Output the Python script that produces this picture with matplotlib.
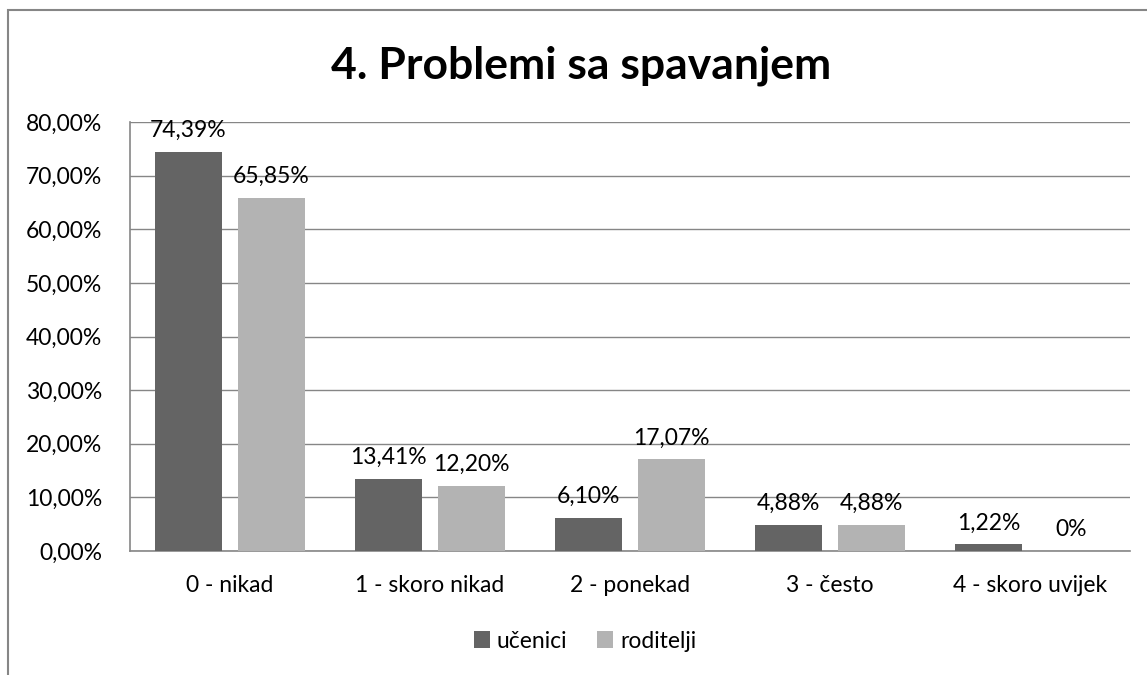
import matplotlib.pyplot as plt
import numpy as np
from matplotlib.patches import Rectangle

categories = ['0 - nikad', '1 - skoro nikad', '2 - ponekad', '3 - često', '4 - skoro uvijek']
ucenici = [74.39, 13.41, 6.10, 4.88, 1.22]
roditelji = [65.85, 12.20, 17.07, 4.88, 0.0]
series_names = ['učenici', 'roditelji']
yticks = [0, 10, 20, 30, 40, 50, 60, 70, 80]

dark = '#646464'
light = '#b3b3b3'
axis_col = '#868686'

plt.rcParams['font.family'] = ['Lato', 'DejaVu Sans']

W, H = 1147, 675
fig = plt.figure(figsize=(W/100, H/100), dpi=100)
ax = fig.add_axes([130/W, 1-551/H, 1000/W, 429/H])

def fmt(v):
	if v == 0:
		return '0%'
	return ('%.2f' % v).replace('.', ',') + '%'

fs = 16.5
x = np.arange(len(categories))
bw = 0.335
off = bw/2 + 0.04
b1 = ax.bar(x - off, ucenici, bw, color=dark, label=series_names[0], zorder=3)
b2 = ax.bar(x + off, roditelji, bw, color=light, label=series_names[1], zorder=3)
for bars, vals in [(b1, ucenici), (b2, roditelji)]:
	for r, v in zip(bars, vals):
		ax.annotate(fmt(v), (r.get_x() + r.get_width()/2, v), xytext=(0, 8),
			textcoords='offset points', ha='center', va='bottom', fontsize=fs, color='black')

ax.set_xlim(-0.5, len(categories) - 0.5)
ax.set_ylim(0, 80)
ax.set_yticks(yticks)
ax.set_yticklabels(['%d,00%%' % t for t in yticks], fontsize=fs)
ax.set_xticks(x)
ax.set_xticklabels(categories, fontsize=fs)
ax.tick_params(axis='both', length=0)
ax.tick_params(axis='y', pad=20)
ax.tick_params(axis='x', pad=17)
ax.grid(axis='y', color=axis_col, lw=1, zorder=0)
for s in ['top', 'right']:
	ax.spines[s].set_visible(False)
for s in ['left', 'bottom']:
	ax.spines[s].set_color(axis_col)
	ax.spines[s].set_linewidth(1.2)

fig.text(581/W, 1-66/H, '4. Problemi sa spavanjem', ha='center', va='center',
	fontsize=32, fontweight='bold')

leg = fig.legend(loc='center', bbox_to_anchor=(585/W, 1-641/H), ncol=2, frameon=False,
	fontsize=fs, handlelength=0.7, handleheight=0.7, handletextpad=0.3, columnspacing=1.3)

# outer chart frame (right and bottom edges are cut off in the original)
fig.patches.append(Rectangle((8/W, -0.1), 1.2, 1-10/H + 0.1, transform=fig.transFigure,
	fill=False, edgecolor=axis_col, lw=1.5))

fig.savefig('out.png', dpi=100)
